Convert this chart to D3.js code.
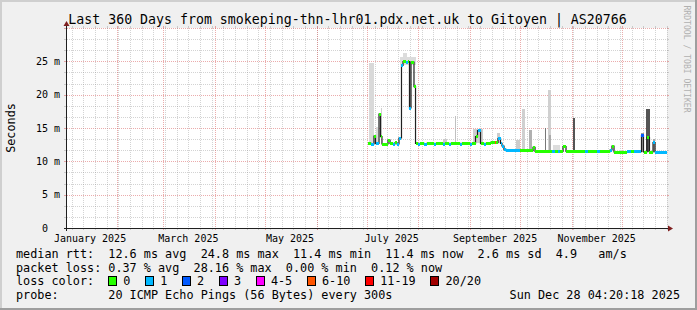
<!DOCTYPE html>
<html><head><meta charset="utf-8">
<script src="https://cdn.jsdelivr.net/npm/d3@7/dist/d3.min.js"></script>
<style>
html,body{margin:0;padding:0;background:#f0f0f0;}
svg{display:block;}
text{font-family:"DejaVu Sans Mono",monospace;white-space:pre;}
</style></head><body>
<svg id="c" width="697" height="310"></svg>
<script>
// ---------- data ----------
const titleText = "Last 360 Days from smokeping-thn-lhr01.pdx.net.uk to Gitoyen | AS20766";
const startTime = "2025-01-02T04:20:18";
const endTime = "2025-12-28T04:20:18";
const yTickValues = [0, 5, 10, 15, 20, 25];           // milliseconds
const yTickNumbers = ["0", "5", "10", "15", "20", "25"];
const yTickUnits = ["", "m", "m", "m", "m", "m"];
const xLabelMonths = ["2025-01-01", "2025-03-01", "2025-05-01", "2025-07-01", "2025-09-01", "2025-11-01"];
const xLabelTexts = ["January 2025", "March 2025", "May 2025", "July 2025", "September 2025", "November 2025"];

// median rtt steps (start time of each step), value in ms, lost pings of 20
const medianTimes = [
 "2025-07-01T19:00","2025-07-03T14:00","2025-07-05T09:00","2025-07-06T07:00","2025-07-08T09:00",
 "2025-07-09T07:00","2025-07-10T04:00","2025-07-13T19:00","2025-07-15T00:00","2025-07-16T19:00",
 "2025-07-18T00:00","2025-07-19T04:00","2025-07-20T09:00","2025-07-21T21:00","2025-07-22T19:00",
 "2025-07-24T14:00","2025-07-25T19:00","2025-07-26T16:00","2025-07-27T14:00","2025-07-29T09:00",
 "2025-07-30T07:00","2025-07-31T19:00","2025-08-02T00:00","2025-08-04T09:00","2025-08-06T04:00",
 "2025-08-10T09:00","2025-08-11T14:00","2025-08-15T19:00","2025-08-17T00:00","2025-08-19T09:00",
 "2025-08-20T14:00","2025-08-26T00:00","2025-08-27T04:00","2025-09-01T00:00","2025-09-02T04:00",
 "2025-09-04T07:00","2025-09-05T12:00","2025-09-07T07:00","2025-09-09T09:00","2025-09-10T14:00",
 "2025-09-13T14:00","2025-09-16T00:00","2025-09-16T21:00","2025-09-17T19:00","2025-09-19T07:00",
 "2025-09-20T04:00","2025-09-21T09:00","2025-09-22T14:00","2025-10-01T00:00","2025-10-08T19:00",
 "2025-10-10T00:00","2025-10-20T04:00","2025-10-22T00:00","2025-10-23T19:00","2025-10-25T00:00",
 "2025-10-26T19:00","2025-10-28T14:00","2025-11-09T00:00","2025-11-10T19:00","2025-11-16T04:00",
 "2025-11-18T00:00","2025-11-24T00:00","2025-11-25T04:00","2025-11-26T09:00","2025-12-04T04:00",
 "2025-12-06T14:00","2025-12-08T09:00","2025-12-12T21:00","2025-12-14T02:00","2025-12-16T04:00",
 "2025-12-17T16:00","2025-12-19T19:00","2025-12-21T00:00"
];
const medianMs = [
 12.7,12.6,13.8,12.7,17.1, 13.7,12.6,13.2,12.7,12.6, 12.8,12.6,13.5,24.4,24.95,
 24.9,24.95,18.0,24.9,21.2, 12.7,12.6,12.7,12.6,12.7, 12.6,12.7,12.6,12.7,12.6,
 12.7,12.6,12.7,12.6,12.7, 13.7,14.6,12.7,12.6,12.7, 12.9,12.9,12.8,13.4,12.7,
 12.3,11.8,11.6,11.6,12.1, 11.5,11.5,11.5,11.5,11.5, 12.2,11.5,11.5,11.5,11.5,
 11.45,11.7,12.3,11.4,11.45, 11.45,11.45,13.9,11.4,13.6, 11.4,12.8,11.4
];
const medianLoss = [
 0,1,0,1,0, 0,0,0,0,1, 0,1,1,1,0,
 1,0,1,0,0, 0,1,0,1,0, 1,0,1,0,1,
 0,1,0,1,0, 0,1,0,1,0, 0,8,0,1,1,
 1,1,1,0,0, 0,1,0,1,0, 0,0,1,0,1,
 0,1,0,0,1, 0,1,2,0,0, 0,1,1
];

// smoke (ping spread) patches
const smokeFrom = ["2025-07-02T09:00","2025-07-06T07:00","2025-07-09T14:00","2025-07-21T00:00","2025-07-23T00:00",
 "2025-07-26T16:00","2025-08-15T19:00","2025-08-22T19:00","2025-09-02T19:00","2025-09-17T04:00",
 "2025-09-28T21:00","2025-10-02T04:00","2025-10-06T09:00","2025-10-16T00:00","2025-10-17T19:00",
 "2025-10-18T09:00","2025-10-20T19:00","2025-11-01T14:00","2025-12-12T14:00","2025-12-15T19:00","2025-12-19T19:00"];
const smokeTo = ["2025-07-05T09:00","2025-07-07T19:00","2025-07-10T04:00","2025-07-30T14:00","2025-07-25T04:00",
 "2025-07-27T14:00","2025-08-18T04:00","2025-08-23T09:00","2025-09-08T19:00","2025-09-19T00:00",
 "2025-10-01T00:00","2025-10-04T00:00","2025-10-08T04:00","2025-10-16T14:00","2025-10-19T14:00",
 "2025-10-19T07:00","2025-10-25T00:00","2025-11-02T19:00","2025-12-14T09:00","2025-12-18T00:00","2025-12-21T00:00"];
const smokeLow = [12.6,12.7,13.5,24.5,25.0, 18.0,12.7,12.7,12.7,12.7, 11.6,11.6,11.6,11.5,11.5, 11.5,11.5,11.6,11.4,11.4,11.4];
const smokeHigh = [24.7,15.2,18.0,25.6,26.2, 25.0,13.3,16.8,14.9,14.2, 13.2,17.8,14.7,15.0,20.7, 14.0,12.4,16.5,14.3,17.8,13.3];
const smokeGray = ["#d9d9d9","#dadada","#d0d0d0","#dcdcdc","#dcdcdc","#bdbdbd","#cccccc","#c0c0c0","#cfcfcf","#cccccc",
 "#cccccc","#d0d0d0","#b0b0b0","#777777","#d0d0d0","#aaaaaa","#dddddd","#555555","#999999","#555555","#aaaaaa"];

const lossLabels = ["0","1","2","3","4-5","6-10","11-19","20/20"];
const lossUpper = [0,1,2,3,5,10,19,20];
const lossColors = ["#26ff00","#00b8ff","#0059ff","#7e00ff","#ff00ff","#ff5500","#ff0000","#a10000"];

const rttStats = ["12.6 ms avg","24.8 ms max","11.4 ms min","11.4 ms now","2.6 ms sd","4.9   am/s"];
const lossStats = ["0.37 % avg","28.16 % max","0.00 % min","0.12 % now"];
const probeText = "20 ICMP Echo Pings (56 Bytes) every 300s";
const stampText = "Sun Dec 28 04:20:18 2025";
const watermark = "RRDTOOL / TOBI OETIKER";

// ---------- drawing ----------
const W = 697, H = 310;
const L = 67, R = 667, T = 28, B = 228;
const svg = d3.select("#c");
const parse = s => new Date(s);
const t0 = parse(startTime), t1 = parse(endTime);
const x = d3.scaleTime().domain([t0, t1]).range([L, R]);
const y = d3.scaleLinear().domain([0, 30]).range([B, T]);

// background + 3d border
svg.append("rect").attr("width", W).attr("height", H).attr("fill", "#f0f0f0");
svg.append("path").attr("d", `M0,0H${W}V2H2V${H}H0Z`).attr("fill", "#cfcfcf");
svg.append("path").attr("d", `M${W},${H}H0V${H-2}H${W-2}V0H${W}Z`).attr("fill", "#9e9e9e");
svg.append("rect").attr("x", L).attr("y", T).attr("width", R - L).attr("height", B - T).attr("fill", "#ffffff");

// grid
const minorCol = "rgba(140,140,140,0.38)", majorCol = "rgba(210,70,70,0.45)";
const g = svg.append("g").attr("shape-rendering", "crispEdges");
const hMinor = d3.range(0, 30.001, 5 / 3).filter(v => Math.abs(v / 5 - Math.round(v / 5)) > 0.01);
const hMajor = d3.range(5, 30.001, 5);
function hline(v, col) {
  const yy = Math.round(y(v)) + 0.5;
  g.append("line").attr("x1", L).attr("x2", R).attr("y1", yy).attr("y2", yy).attr("stroke", col).attr("stroke-dasharray", "1,1");
  g.append("line").attr("x1", L - 3).attr("x2", L).attr("y1", yy).attr("y2", yy).attr("stroke", col);
  g.append("line").attr("x1", R).attr("x2", R + 2).attr("y1", yy).attr("y2", yy).attr("stroke", col);
}
hMinor.forEach(v => hline(v, minorCol));
hMajor.forEach(v => hline(v, majorCol));
const months = d3.timeMonth.range(t0, t1);
const weeks = d3.timeSunday.range(t0, t1);
function vline(t, col) {
  const xx = Math.round(x(t)) + 0.5;
  g.append("line").attr("x1", xx).attr("x2", xx).attr("y1", T).attr("y2", B).attr("stroke", col).attr("stroke-dasharray", "1,1");
  g.append("line").attr("x1", xx).attr("x2", xx).attr("y1", B).attr("y2", B + 2).attr("stroke", col);
  g.append("line").attr("x1", xx).attr("x2", xx).attr("y1", T - 2).attr("y2", T).attr("stroke", col);
}
weeks.forEach(t => vline(t, minorCol));
months.forEach(t => vline(t, majorCol));

// smoke
const sm = svg.append("g").attr("shape-rendering", "crispEdges");
smokeFrom.forEach((f, i) => {
  const xa = x(parse(f)), xb = x(parse(smokeTo[i]));
  sm.append("rect").attr("x", xa).attr("width", Math.max(1, xb - xa))
    .attr("y", y(smokeHigh[i])).attr("height", y(smokeLow[i]) - y(smokeHigh[i]))
    .attr("fill", smokeGray[i]);
});

// median line
const pts = medianTimes.map((s, i) => [parse(s), medianMs[i]]);
pts.push([t1, medianMs[medianMs.length - 1]]);
svg.append("path").attr("d", d3.line().x(d => x(d[0])).y(d => y(d[1])).curve(d3.curveStepAfter)(pts))
  .attr("fill", "none").attr("stroke", "#202020").attr("stroke-width", 1.2);
const bucket = n => lossUpper.findIndex(u => n <= u);
const band = svg.append("g").attr("shape-rendering", "crispEdges");
medianTimes.forEach((s, i) => {
  const xa = x(parse(s)), xb = x(i + 1 < medianTimes.length ? parse(medianTimes[i + 1]) : t1);
  band.append("rect").attr("x", xa).attr("width", Math.max(1, xb - xa))
    .attr("y", y(medianMs[i]) - 1.5).attr("height", 3)
    .attr("fill", lossColors[bucket(medianLoss[i])]);
});

// axes
const ax = svg.append("g").attr("shape-rendering", "crispEdges");
ax.append("line").attr("x1", L - 0.5).attr("x2", L - 0.5).attr("y1", B + 3).attr("y2", T - 4).attr("stroke", "#1f1f1f");
ax.append("line").attr("x1", L - 3).attr("x2", R + 3).attr("y1", B + 0.5).attr("y2", B + 0.5).attr("stroke", "#1f1f1f");
svg.append("path").attr("d", `M${L - 3.5},${T - 2}L${L - 0.5},${T - 7}L${L + 2.5},${T - 2}Z`).attr("fill", "#7f1f1f");
svg.append("path").attr("d", `M${R + 1},${B - 2.5}L${R + 6},${B + 0.5}L${R + 1},${B + 3.5}Z`).attr("fill", "#7f1f1f");

// y labels
yTickValues.forEach((v, i) => {
  svg.append("text").attr("x", 48).attr("y", y(v) + 3.6).attr("text-anchor", "end")
    .attr("font-size", "10px").attr("fill", "#000").text(yTickNumbers[i]);
  if (yTickUnits[i]) svg.append("text").attr("x", 54).attr("y", y(v) + 3.6)
    .attr("font-size", "10px").attr("fill", "#000").text(yTickUnits[i]);
});
// x labels
xLabelMonths.forEach((m, i) => {
  const t = d3.timeDay.offset(parse(m + "T00:00"), 15);
  svg.append("text").attr("x", x(t)).attr("y", 242).attr("text-anchor", "middle")
    .attr("font-size", "10px").attr("fill", "#000").text(xLabelTexts[i]);
});

// title
svg.append("text").attr("x", W / 2 - 1).attr("y", 24).attr("text-anchor", "middle")
  .attr("font-size", "13.25px").attr("fill", "#000").text(titleText);
// y axis title
svg.append("text").attr("transform", "translate(14.5,128) rotate(-90)").attr("text-anchor", "middle")
  .attr("font-size", "11.8px").attr("fill", "#000").text("Seconds");
// watermark
svg.append("text").attr("transform", "translate(683.5,59) rotate(90)").attr("text-anchor", "middle")
  .attr("font-size", "8.1px").attr("fill", "#b0b0b0").text(watermark);

// legend
const fs = "11.8px", cw = 7.1, lx = 16, vx = lx + 13 * cw;
function txt(xx, yy, s, anchor) {
  return svg.append("text").attr("x", xx).attr("y", yy).attr("font-size", fs).attr("fill", "#000")
    .attr("xml:space", "preserve").attr("text-anchor", anchor || "start").text(s);
}
txt(lx, 258.3, "median rtt:");
txt(vx, 258.3, rttStats.join("  "));
txt(lx, 271.8, "packet loss:");
txt(vx, 271.8, lossStats.join("  "));
txt(lx, 285.3, "loss color:");
let bx = 108;
lossLabels.forEach((lab, i) => {
  svg.append("rect").attr("x", bx + 0.5).attr("y", 276.5).attr("width", 8).attr("height", 8.5)
    .attr("fill", lossColors[i]).attr("stroke", "#000").attr("stroke-width", 1).attr("shape-rendering", "crispEdges");
  txt(bx + 15.3, 285.3, lab);
  bx = bx + 15.3 + lab.length * cw + 14.5;
});
txt(lx, 299.3, "probe:");
txt(vx, 299.3, probeText);
txt(680, 299.3, stampText, "end");
</script>
</body></html>
